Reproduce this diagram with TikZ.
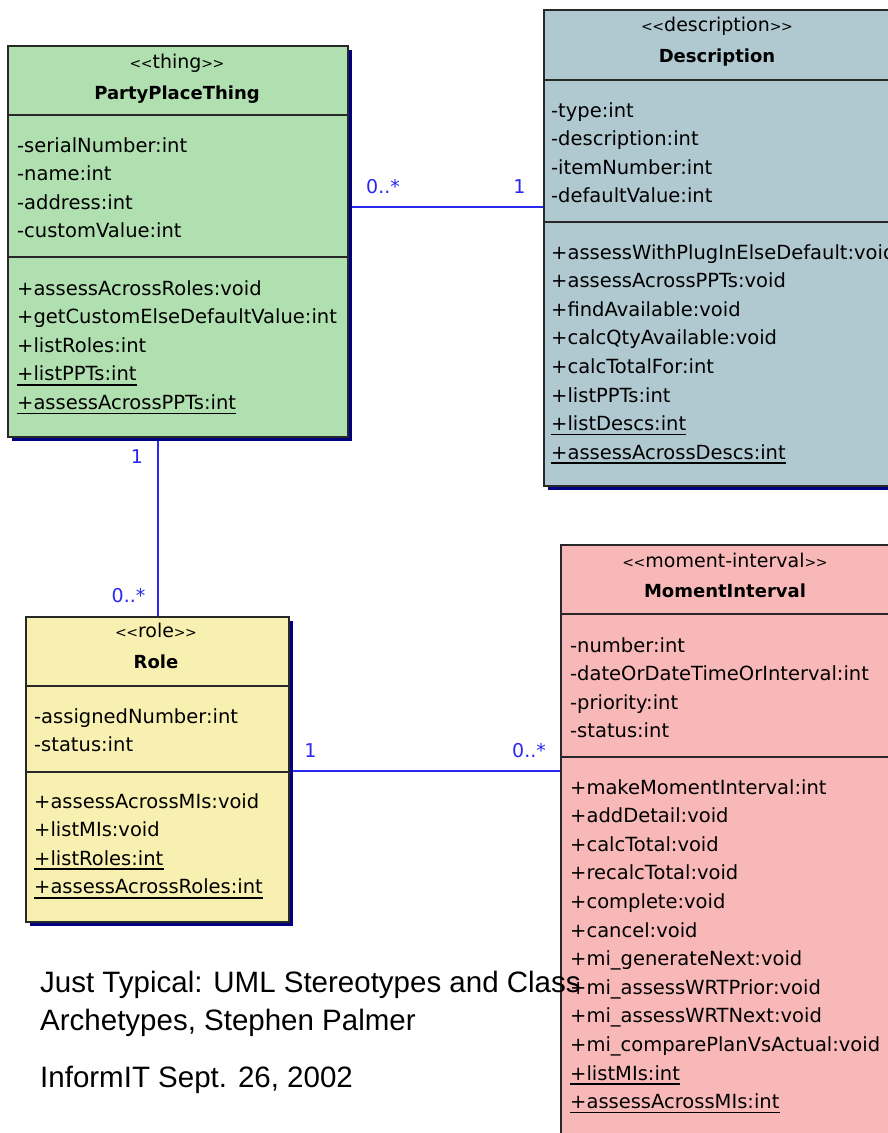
\documentclass[tikz,border=0pt]{standalone}
\usepackage{fontspec}
\setmainfont{DejaVu Sans}
\newfontfamily\capfont{Liberation Sans}
\usetikzlibrary{shadows}
\pgfdeclarelayer{back}
\pgfsetlayers{back,main}

\definecolor{pptgreen}{RGB}{176,223,176}
\definecolor{descblue}{RGB}{176,200,208}
\definecolor{roleyellow}{RGB}{248,240,176}
\definecolor{mipink}{RGB}{248,184,184}
\definecolor{navyshadow}{RGB}{0,0,128}
\definecolor{boxline}{RGB}{40,40,40}
\definecolor{assocblue}{RGB}{40,40,240}

% small angle brackets around a stereotype name
\newcommand\stereo[1]{{\fontsize{14}{14}\selectfont<\kern-0.5pt<}#1{\fontsize{14}{14}\selectfont>\kern-0.5pt>}}

\begin{document}
\begin{tikzpicture}[x=1pt,y=-1pt,
  classbox/.style={draw=boxline, line width=1.5pt, anchor=north west, inner sep=0pt,
    drop shadow={shadow xshift=4.5pt, shadow yshift=-4.5pt, fill=navyshadow, opacity=1}},
  member/.style={anchor=base west, inner sep=0pt, font=\fontsize{19.5}{19.5}\selectfont},
  classname/.style={anchor=base, inner sep=0pt, font=\bfseries\fontsize{18}{18}\selectfont},
  stereotype/.style={anchor=base, inner sep=0pt, font=\fontsize{19}{19}\selectfont},
  sepline/.style={draw=boxline, line width=2pt},
  uline/.style={draw=black, line width=1.6pt},
  assoc/.style={draw=assocblue, line width=1.8pt},
  mult/.style={anchor=base, inner sep=0pt, text=assocblue, font=\fontsize{19}{19}\selectfont},
  caption/.style={anchor=base west, inner sep=0pt, font=\capfont\fontsize{29.5}{29.5}\selectfont}
]
\useasboundingbox (0,0) rectangle (888,1133);
\clip (0,0) rectangle (888,1133);

% ---------------- PartyPlaceThing ----------------
\node[classbox, fill=pptgreen, minimum width=340pt, minimum height=391pt] (ppt) at (7,45) {};
\coordinate (ppt-s1) at (0,115);
\coordinate (ppt-s2) at (0,257);
\draw[sepline] (ppt.west |- ppt-s1) -- (ppt.east |- ppt-s1);
\draw[sepline] (ppt.west |- ppt-s2) -- (ppt.east |- ppt-s2);
\node[stereotype] (ppt-st) at (177,68) {\stereo{thing}};
\node[classname] (ppt-nm) at (177,99) {PartyPlaceThing};
\foreach \t [count=\i from 0] in {-serialNumber:int,-name:int,-address:int,-customValue:int}
  \node[member] (ppt-a\i) at (17,{152+28.6*\i}) {\t};
\foreach \t [count=\i from 0] in {+assessAcrossRoles:void,+getCustomElseDefaultValue:int,+listRoles:int,+listPPTs:int,+assessAcrossPPTs:int}
  \node[member] (ppt-o\i) at (17,{295+28.6*\i}) {\t};
\draw[uline] ([yshift=-4pt]ppt-o3.base west) -- ([yshift=-4pt]ppt-o3.base east);
\draw[uline] ([yshift=-4pt]ppt-o4.base west) -- ([yshift=-4pt]ppt-o4.base east);

% ---------------- Description ----------------
\node[classbox, fill=descblue, minimum width=348pt, minimum height=476pt] (desc) at (543,9) {};
\coordinate (desc-s1) at (0,80);
\coordinate (desc-s2) at (0,222);
\draw[sepline] (desc.west |- desc-s1) -- (desc.east |- desc-s1);
\draw[sepline] (desc.west |- desc-s2) -- (desc.east |- desc-s2);
\node[stereotype] (desc-st) at (717,31) {\stereo{description}};
\node[classname] (desc-nm) at (717,62) {Description};
\foreach \t [count=\i from 0] in {-type:int,-description:int,-itemNumber:int,-defaultValue:int}
  \node[member] (desc-a\i) at (551,{117+28.6*\i}) {\t};
\foreach \t [count=\i from 0] in {+assessWithPlugInElseDefault:void,+assessAcrossPPTs:void,+findAvailable:void,+calcQtyAvailable:void,+calcTotalFor:int,+listPPTs:int,+listDescs:int,+assessAcrossDescs:int}
  \node[member] (desc-o\i) at (551,{259+28.6*\i}) {\t};
\draw[uline] ([yshift=-4pt]desc-o6.base west) -- ([yshift=-4pt]desc-o6.base east);
\draw[uline] ([yshift=-4pt]desc-o7.base west) -- ([yshift=-4pt]desc-o7.base east);

% ---------------- Role ----------------
\node[classbox, fill=roleyellow, minimum width=263pt, minimum height=305pt] (role) at (25,616) {};
\coordinate (role-s1) at (0,686);
\coordinate (role-s2) at (0,772);
\draw[sepline] (role.west |- role-s1) -- (role.east |- role-s1);
\draw[sepline] (role.west |- role-s2) -- (role.east |- role-s2);
\node[stereotype] (role-st) at (156,637) {\stereo{role}};
\node[classname] (role-nm) at (156,668) {Role};
\foreach \t [count=\i from 0] in {-assignedNumber:int,-status:int}
  \node[member] (role-a\i) at (34,{723+28.6*\i}) {\t};
\foreach \t [count=\i from 0] in {+assessAcrossMIs:void,+listMIs:void,+listRoles:int,+assessAcrossRoles:int}
  \node[member] (role-o\i) at (34,{808+28.6*\i}) {\t};
\draw[uline] ([yshift=-4pt]role-o2.base west) -- ([yshift=-4pt]role-o2.base east);
\draw[uline] ([yshift=-4pt]role-o3.base west) -- ([yshift=-4pt]role-o3.base east);

% ---------------- MomentInterval ----------------
\node[classbox, fill=mipink, minimum width=331pt, minimum height=620pt] (mi) at (560,544) {};
\coordinate (mi-s1) at (0,614);
\coordinate (mi-s2) at (0,757);
\draw[sepline] (mi.west |- mi-s1) -- (mi.east |- mi-s1);
\draw[sepline] (mi.west |- mi-s2) -- (mi.east |- mi-s2);
\node[stereotype] (mi-st) at (725,567) {\stereo{moment-interval}};
\node[classname] (mi-nm) at (725,597) {MomentInterval};
\foreach \t [count=\i from 0] in {-number:int,-dateOrDateTimeOrInterval:int,-priority:int,-status:int}
  \node[member] (mi-a\i) at (570,{652+28.6*\i}) {\t};
\foreach \t [count=\i from 0] in {+makeMomentInterval:int,+addDetail:void,+calcTotal:void,+recalcTotal:void,+complete:void,+cancel:void,+mi\_generateNext:void,+mi\_assessWRTPrior:void,+mi\_assessWRTNext:void,+mi\_comparePlanVsActual:void,+listMIs:int,+assessAcrossMIs:int}
  \node[member] (mi-o\i) at (570,{794+28.6*\i}) {\t};
\draw[uline] ([yshift=-4pt]mi-o10.base west) -- ([yshift=-4pt]mi-o10.base east);
\draw[uline] ([yshift=-4pt]mi-o11.base west) -- ([yshift=-4pt]mi-o11.base east);

% ---------------- associations ----------------
\coordinate (y-pd) at (0,207);
\coordinate (x-pr) at (158,0);
\coordinate (y-rm) at (0,771);
\begin{pgfonlayer}{back}
  \draw[assoc] (ppt.east |- y-pd) -- (desc.west |- y-pd);
  \draw[assoc] (ppt.south -| x-pr) -- (role.north -| x-pr);
  \draw[assoc] (role.east |- y-rm) -- (mi.west |- y-rm);
\end{pgfonlayer}
\node[mult] (m-pd1) at (383,193) {0..*};
\node[mult] (m-pd2) at (519.5,193) {1};
\node[mult] (m-pr1) at (137,463) {1};
\node[mult] (m-pr2) at (128.5,602) {0..*};
\node[mult] (m-rm1) at (310.5,757) {1};
\node[mult] (m-rm2) at (529,757) {0..*};

% ---------------- caption ----------------
\node[caption] (cap1) at (40,992) {Just Typical: UML Stereotypes and Class};
\node[caption] (cap2) at (40,1030) {Archetypes, Stephen Palmer};
\node[caption] (cap3) at (40,1087) {InformIT Sept. 26, 2002};
\end{tikzpicture}
\end{document}
